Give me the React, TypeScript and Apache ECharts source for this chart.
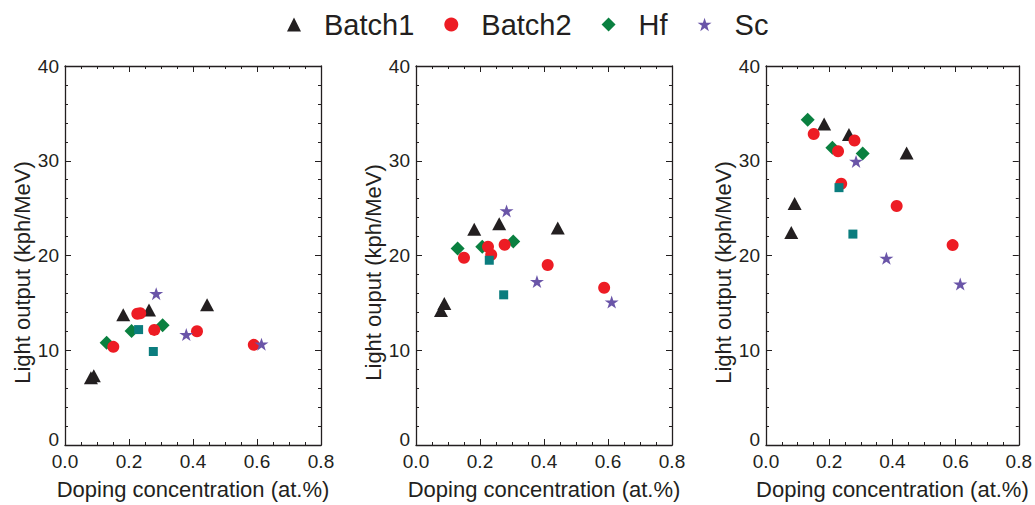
import React, { useEffect, useRef } from "react";
import * as echarts from "echarts";

// ---- data (x: doping concentration at.%, y: light output kph/MeV) ----
const seriesNames = ["Batch1", "Batch2", "Hf", "Sc"];
const yNames = ["Light output (kph/MeV)", "Light ouput (kph/MeV)", "Light output (kph/MeV)"];
const xName = "Doping concentration (at.%)";

const p1Batch1 = [[0.081, 7.1], [0.09, 7.3], [0.182, 13.75], [0.2625, 14.25], [0.444, 14.8]];
const p1Batch2 = [[0.151, 10.36], [0.226, 13.85], [0.235, 13.9], [0.279, 12.15], [0.4125, 12.0], [0.59, 10.57]];
const p1Hf = [[0.13, 10.8], [0.208, 12.04], [0.305, 12.63]];
const p1Sc = [[0.285, 15.96], [0.379, 11.65], [0.614, 10.64]];
const p1Ref = [[0.23, 12.18], [0.276, 9.87]];

const p2Batch1 = [[0.078, 14.2], [0.0885, 14.94], [0.182, 22.78], [0.26, 23.34], [0.443, 22.89]];
const p2Batch2 = [[0.15, 19.77], [0.225, 20.92], [0.235, 20.08], [0.277, 21.13], [0.4115, 19.0], [0.588, 16.59]];
const p2Hf = [[0.13, 20.75], [0.207, 20.93], [0.304, 21.49]];
const p2Sc = [[0.283, 24.7], [0.378, 17.25], [0.6115, 15.08]];
const p2Ref = [[0.229, 19.5], [0.274, 15.85]];

const p3Batch1 = [[0.08, 22.43], [0.0906, 25.48], [0.184, 33.88], [0.2625, 32.76], [0.445, 30.83]];
const p3Batch2 = [[0.151, 32.83], [0.228, 31.0], [0.238, 27.58], [0.28, 32.13], [0.4135, 25.23], [0.5906, 21.1]];
const p3Hf = [[0.132, 34.33], [0.21, 31.36], [0.306, 30.76]];
const p3Sc = [[0.285, 29.92], [0.381, 19.7], [0.6147, 16.98]];
const p3Ref = [[0.231, 27.16], [0.275, 22.26]];

const panels = [
  { batch1: p1Batch1, batch2: p1Batch2, hf: p1Hf, sc: p1Sc, ref: p1Ref },
  { batch1: p2Batch1, batch2: p2Batch2, hf: p2Hf, sc: p2Sc, ref: p2Ref },
  { batch1: p3Batch1, batch2: p3Batch2, hf: p3Hf, sc: p3Sc, ref: p3Ref },
];

const STAR =
  "path://M50,0 L61.8,35.4 L100,35.4 L69.1,57.3 L80.9,95.1 L50,72 L19.1,95.1 L30.9,57.3 L0,35.4 L38.2,35.4 Z";

const FONT = "'Liberation Sans', Arial, sans-serif";
const TEXT = "#231f20";
const LINE = "#231f20";

export default function App() {
  const ref = useRef<HTMLDivElement>(null);
  useEffect(() => {
    if (!ref.current) return;
    const chart = echarts.init(ref.current, null, { renderer: "svg" });
    const lefts = [65, 416, 766];
    const grids = lefts.map((l) => ({ left: l, top: 66, width: 256, height: 381 }));
    const xAxes: any[] = [];
    const yAxes: any[] = [];
    const series: any[] = [];
    const tickCommon = {
      axisLine: { show: true, onZero: false, lineStyle: { color: LINE, width: 1.3 } },
      axisTick: { show: true, inside: true, length: 6, lineStyle: { color: LINE, width: 1 } },
      splitLine: { show: false },
    };
    panels.forEach((p, i) => {
      xAxes.push({
        type: "value", gridIndex: i, min: 0, max: 0.8, interval: 0.2, position: "bottom",
        ...tickCommon,
        minorTick: { show: true, splitNumber: 4, length: 3, lineStyle: { color: LINE, width: 1 } },
        axisLabel: { fontSize: 19, color: TEXT, fontFamily: FONT, margin: 7, formatter: (v: number) => v.toFixed(1) },
        name: xName, nameLocation: "middle", nameGap: 33,
        nameTextStyle: { fontSize: 22, color: TEXT, fontFamily: FONT },
      });
      xAxes.push({
        type: "value", gridIndex: i, min: 0, max: 0.8, interval: 0.2, position: "top",
        ...tickCommon,
        minorTick: { show: true, splitNumber: 4, length: 3, lineStyle: { color: LINE, width: 1 } },
        axisLabel: { show: false },
      });
      yAxes.push({
        type: "value", gridIndex: i, min: 0, max: 40, interval: 10, position: "left",
        ...tickCommon,
        minorTick: { show: true, splitNumber: 5, length: 3, lineStyle: { color: LINE, width: 1 } },
        axisLabel: {
          fontSize: 19, color: TEXT, fontFamily: FONT, margin: 6,
          formatter: (v: number) => (v === 0 ? "{z|0}" : String(v)),
          rich: { z: { fontSize: 19, color: TEXT, fontFamily: FONT, padding: [0, 0, 12, 0] } },
        },
        name: yNames[i], nameLocation: "middle", nameGap: 32,
        nameTextStyle: { fontSize: 22, color: TEXT, fontFamily: FONT, padding: [0, 34, 0, 0] },
      });
      yAxes.push({
        type: "value", gridIndex: i, min: 0, max: 40, interval: 10, position: "right",
        ...tickCommon,
        minorTick: { show: true, splitNumber: 5, length: 3, lineStyle: { color: LINE, width: 1 } },
        axisLabel: { show: false },
      });
      const xi = i * 2;
      const yi = i * 2;
      series.push(
        { type: "scatter", name: "Batch1", xAxisIndex: xi, yAxisIndex: yi, data: p.batch1, symbol: "triangle", symbolSize: [14, 13], itemStyle: { color: "#231f20", opacity: 1 } },
        { type: "scatter", name: "Hf", xAxisIndex: xi, yAxisIndex: yi, data: p.hf, symbol: "diamond", symbolSize: [14, 14], itemStyle: { color: "#0a8040", opacity: 1 } },
        { type: "scatter", name: "Batch2", xAxisIndex: xi, yAxisIndex: yi, data: p.batch2, symbol: "circle", symbolSize: 12, itemStyle: { color: "#ed1c24", opacity: 1 } },
        { type: "scatter", name: "Sc", xAxisIndex: xi, yAxisIndex: yi, data: p.sc, symbol: STAR, symbolSize: [14, 13], itemStyle: { color: "#6a55a8", opacity: 1 } },
        { type: "scatter", name: "Ref", xAxisIndex: xi, yAxisIndex: yi, data: p.ref, symbol: "rect", symbolSize: 9, itemStyle: { color: "#0b7d7e", opacity: 1 } }
      );
    });
    chart.setOption({
      animation: false,
      backgroundColor: "#ffffff",
      legend: {
        data: seriesNames,
        left: 282,
        top: 5,
        itemWidth: 14,
        itemHeight: 14,
        itemGap: 30,
        textStyle: { fontSize: 29, color: TEXT, fontFamily: FONT, padding: [0, 0, 0, 18] },
        selectedMode: false,
      },
      grid: grids,
      xAxis: xAxes,
      yAxis: yAxes,
      series,
    });
    return () => chart.dispose();
  }, []);
  return (
    <div
      ref={ref}
      style={{ position: "fixed", left: 0, top: 0, width: 1035, height: 505, background: "#fff" }}
    />
  );
}
